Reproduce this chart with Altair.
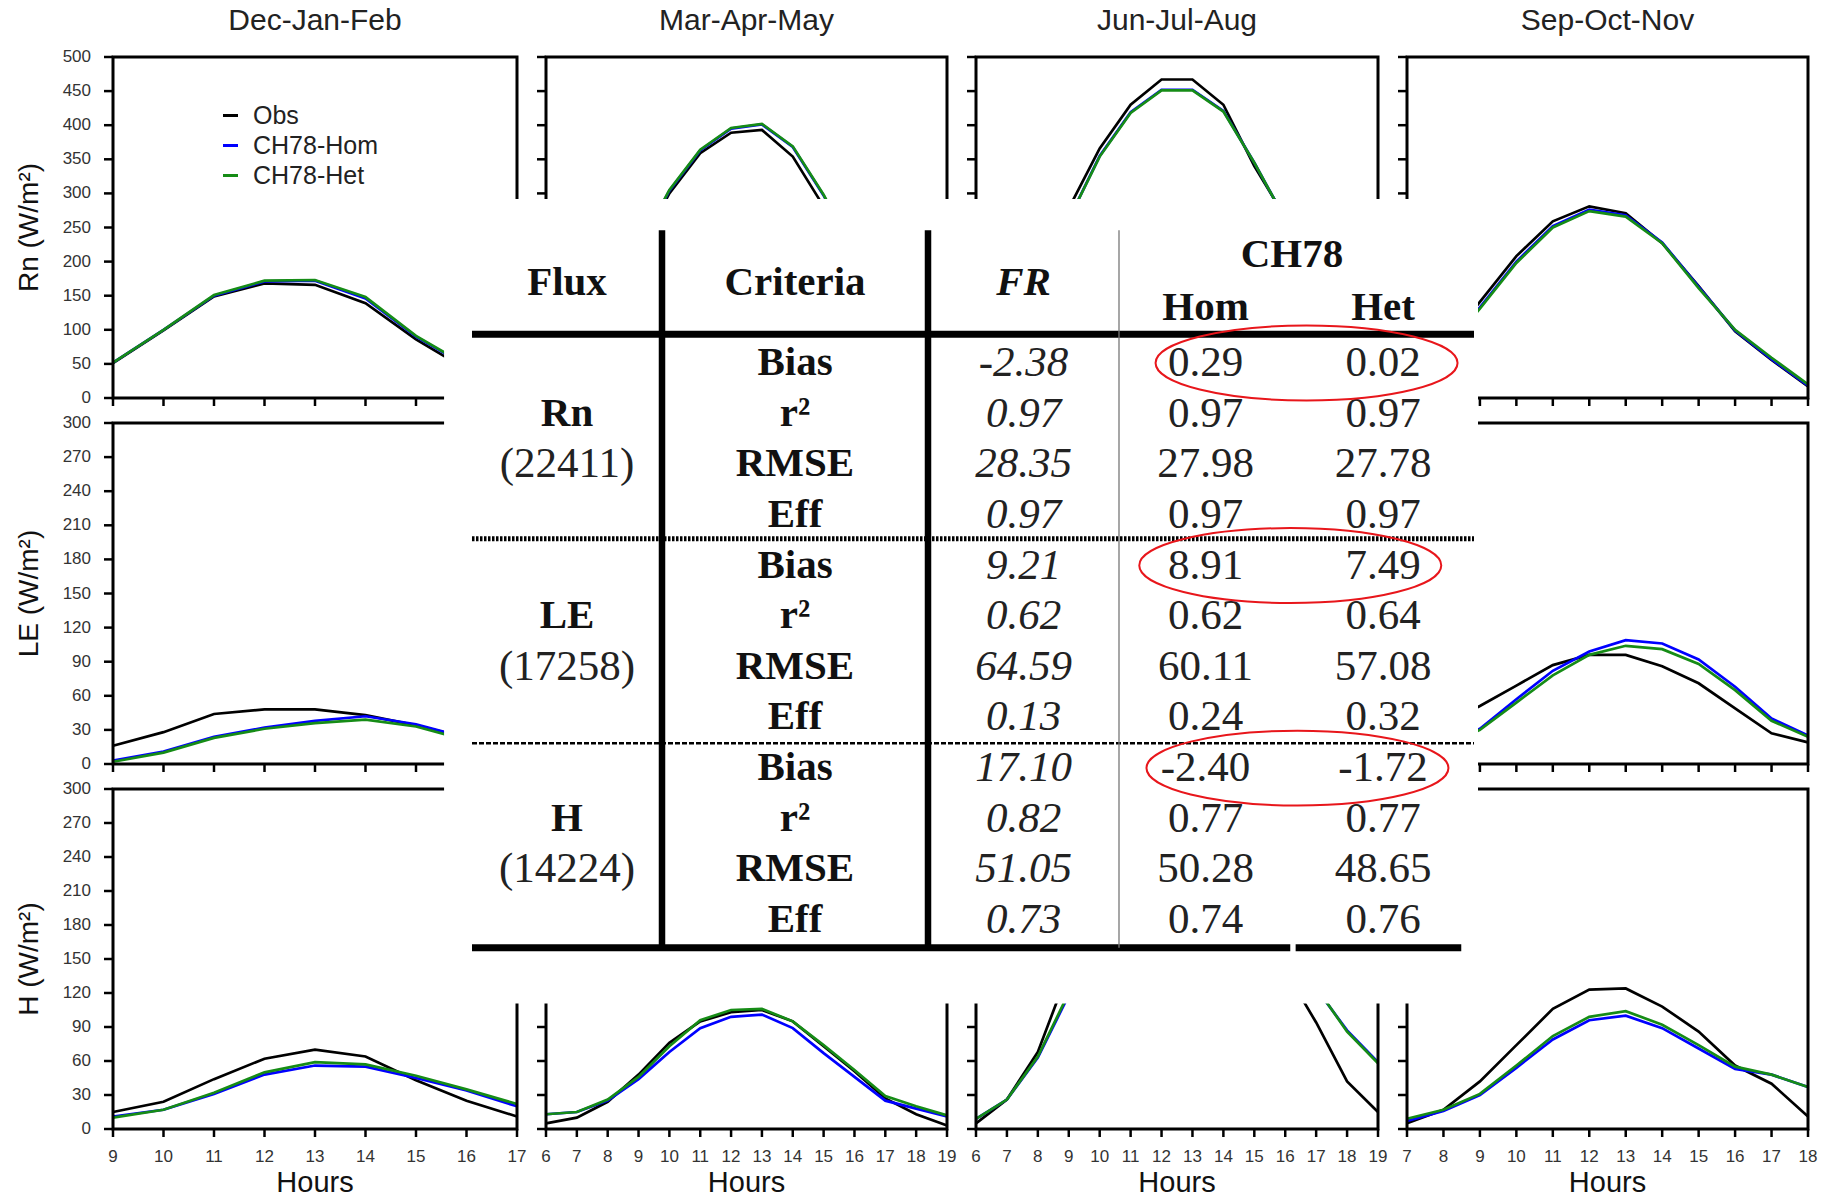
import altair as alt
import pandas as pd

W, H = 1831, 1197
SANS = "Liberation Sans"
SERIF = "Liberation Serif"

# ---------------- data ----------------
SEASONS = ["Dec-Jan-Feb", "Mar-Apr-May", "Jun-Jul-Aug", "Sep-Oct-Nov"]
FLUXES = ["Rn", "LE", "H"]
SERIES = ["Obs", "CH78-Hom", "CH78-Het"]
SERIES_COLORS = ["#000000", "#0000ff", "#168c16"]

HOURS_DJF = list(range(9, 18))
HOURS_MAM = list(range(6, 20))
HOURS_JJA = list(range(6, 20))
HOURS_SON = list(range(7, 19))
HOURS = [HOURS_DJF, HOURS_MAM, HOURS_JJA, HOURS_SON]

Y_MAX = {"Rn": 500, "LE": 300, "H": 300}
Y_TICKS_RN = list(range(0, 501, 50))
Y_TICKS_LE = list(range(0, 301, 30))
Y_TICKS_H = list(range(0, 301, 30))
Y_TICKS = {"Rn": Y_TICKS_RN, "LE": Y_TICKS_LE, "H": Y_TICKS_H}

# None = hidden beneath the table
RN_DJF_OBS = [51, 99, 149, 168, 166, 139, 86, 42, None]
RN_DJF_HOM = [52, 100, 150, 171, 172, 146, 90, 47, None]
RN_DJF_HET = [52, 100, 151, 172, 173, 148, 91, 48, None]

RN_MAM_OBS = [None, None, None, 215, 300, 359, 389, 393, 354, 281, 200, None, None, None]
RN_MAM_HOM = [None, None, None, 219, 304, 363, 395, 401, 368, 297, 211, None, None, None]
RN_MAM_HET = [None, None, None, 220, 305, 364, 396, 402, 369, 298, 212, None, None, None]

RN_JJA_OBS = [None, None, 190, 278, 366, 430, 467, 467, 430, 340, 265, None, None, None]
RN_JJA_HOM = [None, None, 179, 262, 355, 419, 452, 452, 421, 345, 262, None, None, None]
RN_JJA_HET = [None, None, 180, 262, 354, 418, 451, 451, 420, 345, 262, None, None, None]

RN_SON_OBS = [None, 75, 141, 208, 259, 281, 271, 227, 164, 98, 56, 17]
RN_SON_HOM = [None, 70, 133, 200, 252, 276, 268, 228, 163, 99, 57, 18]
RN_SON_HET = [None, 69, 131, 198, 250, 274, 266, 227, 161, 100, 59, 20]

LE_DJF_OBS = [16, 28, 44, 48, 48, 43, 34, 23, None]
LE_DJF_HOM = [3, 11, 24, 32, 38, 42, 35, 23, None]
LE_DJF_HET = [2, 10, 23, 31, 36, 39, 33, 21, None]

LE_SON_OBS = [None, 35, 51, 69, 87, 96, 96, 86, 71, 49, 27, 19]
LE_SON_HOM = [None, 15, 31, 57, 82, 99, 109, 106, 92, 68, 40, 25]
LE_SON_HET = [None, 15, 30, 54, 78, 96, 104, 101, 88, 65, 38, 24]

H_DJF_OBS = [15, 24, 44, 62, 70, 64, 43, 25, 11]
H_DJF_HOM = [11, 17, 31, 48, 56, 55, 45, 34, 20]
H_DJF_HET = [10, 17, 32, 50, 59, 57, 47, 35, 22]

H_MAM_OBS = [5, 10, 24, 48, 76, 95, 103, 105, 95, 73, 51, 27, 13, 3]
H_MAM_HOM = [13, 15, 25, 44, 68, 89, 99, 101, 89, 67, 46, 25, 18, 11]
H_MAM_HET = [13, 15, 26, 46, 73, 96, 105, 106, 95, 74, 52, 29, 20, 12]

H_JJA_OBS = [5, 26, 68, 140, None, None, None, None, None, None, 140, 94, 42, 15]
H_JJA_HOM = [9, 26, 63, 118, None, None, None, None, None, None, 155, 124, 87, 59]
H_JJA_HET = [9, 26, 64, 120, None, None, None, None, None, None, 155, 125, 86, 58]

H_SON_OBS = [5, 17, 42, 74, 106, 123, 124, 108, 86, 56, 40, 11]
H_SON_HOM = [7, 16, 30, 54, 79, 96, 100, 89, 71, 53, 48, 37]
H_SON_HET = [9, 17, 31, 56, 82, 99, 104, 92, 74, 55, 48, 37]

PANEL_DATA = {
    (0, 0): (RN_DJF_OBS, RN_DJF_HOM, RN_DJF_HET),
    (0, 1): (RN_MAM_OBS, RN_MAM_HOM, RN_MAM_HET),
    (0, 2): (RN_JJA_OBS, RN_JJA_HOM, RN_JJA_HET),
    (0, 3): (RN_SON_OBS, RN_SON_HOM, RN_SON_HET),
    (1, 0): (LE_DJF_OBS, LE_DJF_HOM, LE_DJF_HET),
    (1, 3): (LE_SON_OBS, LE_SON_HOM, LE_SON_HET),
    (2, 0): (H_DJF_OBS, H_DJF_HOM, H_DJF_HET),
    (2, 1): (H_MAM_OBS, H_MAM_HOM, H_MAM_HET),
    (2, 2): (H_JJA_OBS, H_JJA_HOM, H_JJA_HET),
    (2, 3): (H_SON_OBS, H_SON_HOM, H_SON_HET),
}

# table contents
CRITERIA = ["Bias", "r²", "RMSE", "Eff"]
FLUX_COUNTS = ["(22411)", "(17258)", "(14224)"]
FR_VALUES = ["-2.38", "0.97", "28.35", "0.97", "9.21", "0.62", "64.59", "0.13",
             "17.10", "0.82", "51.05", "0.73"]
HOM_VALUES = ["0.29", "0.97", "27.98", "0.97", "8.91", "0.62", "60.11", "0.24",
              "-2.40", "0.77", "50.28", "0.74"]
HET_VALUES = ["0.02", "0.97", "27.78", "0.97", "7.49", "0.64", "57.08", "0.32",
              "-1.72", "0.77", "48.65", "0.76"]

# ---------------- layout (pixels) ----------------
COL_X = [(113, 517), (546, 947), (976, 1378), (1407, 1808)]
ROW_Y = [(398, 57), (764, 423), (1129, 789)]
TABLE_COL_EDGES = [472, 662, 928, 1119, 1292, 1474]
TABLE_ROW_RANGE = [363, 920]
TABLE_FONT = 43
TABLE_FONT_BOLD = 41

color_scale = alt.Scale(domain=SERIES, range=SERIES_COLORS)


def panel_chart(ri, ci, obs, hom, het):
    flux = FLUXES[ri]
    season = SEASONS[ci]
    hours = HOURS[ci]
    x0, x1 = COL_X[ci]
    yb, yt = ROW_Y[ri]
    ymax = Y_MAX[flux]
    yticks_vals = Y_TICKS[flux]
    hmid = (hours[0] + hours[-1]) / 2

    rows = []
    for name, vals in zip(SERIES, (obs, hom, het)):
        for h, v in zip(hours, vals):
            if v is not None:
                rows.append({"hour": h, "value": v, "series": name})
    df = pd.DataFrame(rows)

    xs = alt.Scale(domain=[hours[0], hours[-1]], range=[x0, x1], nice=False, zero=False)
    ys = alt.Scale(domain=[0, ymax], range=[yb, yt], nice=False, zero=False)

    def PX(f):
        return alt.X(f, scale=xs, axis=None)

    def PY(f):
        return alt.Y(f, scale=ys, axis=None)

    if ri == 0 and ci == 0:
        legend = alt.Legend(
            orient="none", legendX=218, legendY=103, title=None,
            symbolType="stroke", symbolSize=225, symbolStrokeWidth=3,
            labelFont=SANS, labelFontSize=25, labelColor="#222",
            rowPadding=4, labelOffset=10, padding=0,
        )
    else:
        legend = None

    layers = []
    # x ticks
    xt_df = pd.DataFrame({"hour": hours, "v": [0] * len(hours)})
    layers.append(alt.Chart(xt_df).mark_tick(
        orient="vertical", size=8, thickness=2.5, color="#000", opacity=1, yOffset=4
    ).encode(x=PX("hour:Q"), y=PY("v:Q")))
    # y ticks
    yt_df = pd.DataFrame({"hour": [hours[0]] * len(yticks_vals), "v": yticks_vals})
    layers.append(alt.Chart(yt_df).mark_tick(
        orient="horizontal", size=9, thickness=2.5, color="#000", opacity=1, xOffset=-4.5
    ).encode(x=PX("hour:Q"), y=PY("v:Q")))

    # data lines
    layers.append(alt.Chart(df).mark_line(strokeWidth=2.7).encode(
        x=PX("hour:Q"), y=PY("value:Q"),
        color=alt.Color("series:N", scale=color_scale, legend=legend),
    ))

    # panel frame
    box_df = pd.DataFrame({"h0": [hours[0]], "h1": [hours[-1]], "v0": [0], "v1": [ymax]})
    layers.append(alt.Chart(box_df).mark_rect(fillOpacity=0, stroke="#000", strokeWidth=3).encode(
        x=PX("h0:Q"), x2=alt.X2("h1"), y=PY("v0:Q"), y2=alt.Y2("v1"),
    ))

    if ci == 0:
        # y tick labels
        layers.append(alt.Chart(yt_df).mark_text(
            font=SANS, fontSize=17, color="#333", align="right", baseline="middle", xOffset=-22
        ).encode(x=PX("hour:Q"), y=PY("v:Q"), text="v:Q"))
        # y title
        yt_title = pd.DataFrame({"hour": [hours[0]], "v": [ymax / 2], "t": [f"{flux} (W/m²)"]})
        layers.append(alt.Chart(yt_title).mark_text(
            font=SANS, fontSize=28, color="#111", align="center", baseline="middle",
            angle=270, xOffset=-83
        ).encode(x=PX("hour:Q"), y=PY("v:Q"), text="t:N"))
    if ri == 2:
        # x tick labels
        layers.append(alt.Chart(xt_df).mark_text(
            font=SANS, fontSize=17, color="#333", align="center", baseline="middle", yOffset=28
        ).encode(x=PX("hour:Q"), y=PY("v:Q"), text="hour:Q"))
        ht = pd.DataFrame({"hour": [hmid], "v": [0], "t": ["Hours"]})
        layers.append(alt.Chart(ht).mark_text(
            font=SANS, fontSize=29, color="#111", align="center", baseline="middle", yOffset=54
        ).encode(x=PX("hour:Q"), y=PY("v:Q"), text="t:N"))
    if ri == 0:
        tdf = pd.DataFrame({"hour": [hmid], "v": [ymax], "t": [season]})
        layers.append(alt.Chart(tdf).mark_text(
            font=SANS, fontSize=30, color="#222", baseline="middle", align="center",
            yOffset=-36
        ).encode(x=PX("hour:Q"), y=PY("v:Q"), text="t:N"))
    return alt.layer(*layers)


panels = [panel_chart(ri, ci, *vals) for (ri, ci), vals in PANEL_DATA.items()]

# ---------------- table ----------------
tx = alt.Scale(domain=[0, 1, 2, 3, 4, 5], range=TABLE_COL_EDGES, nice=False, zero=False)
ty = alt.Scale(domain=[0, 11], range=TABLE_ROW_RANGE, nice=False, zero=False)


def X(f):
    return alt.X(f, scale=tx, axis=None)


def Y(f):
    return alt.Y(f, scale=ty, axis=None)


cover = alt.Chart(pd.DataFrame({"c0": [-0.147], "c1": [5.022], "r0": [-3.24], "r1": [12.65]})).mark_rect(
    color="white").encode(x=X("c0:Q"), x2=alt.X2("c1"), y=Y("r0:Q"), y2=alt.Y2("r1"))


def hrule(rows, width, dash=None):
    kw = dict(color="#000", strokeWidth=width)
    if dash:
        kw["strokeDash"] = dash
    return alt.Chart(pd.DataFrame(rows)).mark_rule(**kw).encode(
        x=X("c0:Q"), x2=alt.X2("c1"), y=Y("r:Q"))


def vrule(rows, width, color="#000"):
    return alt.Chart(pd.DataFrame(rows)).mark_rule(color=color, strokeWidth=width).encode(
        x=X("c:Q"), y=Y("r0:Q"), y2=alt.Y2("r1"))


solid_rules = hrule([{"c0": 0, "c1": 5, "r": -0.57},
                     {"c0": 0, "c1": 3.99, "r": 11.55},
                     {"c0": 4.02, "c1": 4.93, "r": 11.55}], 7)
dotted_rule = hrule([{"c0": 0, "c1": 5, "r": 3.47}], 5, [2.5, 1.5])
dashed_rule = hrule([{"c0": 0, "c1": 5, "r": 7.51}], 2.5, [5, 2])
thick_vrules = vrule([{"c": 1, "r0": -2.62, "r1": 11.55}, {"c": 2, "r0": -2.62, "r1": 11.55}], 6.5)
thin_vrule = vrule([{"c": 3, "r0": -2.62, "r1": 11.55}], 1.3, "#777")

bold_cells = [("Flux", 0.5, -1.58), ("Criteria", 1.5, -1.58), ("CH78", 4.0, -2.13),
              ("Hom", 3.5, -1.09), ("Het", 4.5, -1.09)]
for k, f in enumerate(FLUXES):
    bold_cells.append((f, 0.5, 4 * k + 1))
for i in range(12):
    bold_cells.append((CRITERIA[i % 4], 1.5, i))
bolditalic_cells = [("FR", 2.5, -1.58)]
italic_cells = [(v, 2.5, i) for i, v in enumerate(FR_VALUES)]
regular_cells = [(c, 0.5, 4 * k + 2) for k, c in enumerate(FLUX_COUNTS)]
regular_cells += [(v, 3.5, i) for i, v in enumerate(HOM_VALUES)]
regular_cells += [(v, 4.5, i) for i, v in enumerate(HET_VALUES)]


def text_layer(cells, weight, style, color, size):
    df = pd.DataFrame(cells, columns=["t", "c", "r"])
    return alt.Chart(df).mark_text(
        font=SERIF, fontSize=size, fontWeight=weight, fontStyle=style,
        color=color, align="center", baseline="middle",
    ).encode(x=X("c:Q"), y=Y("r:Q"), text="t:N")


ELLIPSE_PATH = ("M-1,0C-1,-0.137,-0.552,-0.248,0,-0.248C0.552,-0.248,1,-0.137,1,0"
                "C1,0.137,0.552,0.248,0,0.248C-0.552,0.248,-1,0.137,-1,0Z")
ellipses = alt.Chart(pd.DataFrame({"c": [4.08, 3.99, 4.03], "r": [0, 4, 8]})).mark_point(
    shape=ELLIPSE_PATH, size=91204, filled=False, color="#e8161b", strokeWidth=2, opacity=1
).encode(x=X("c:Q"), y=Y("r:Q"))

table = alt.layer(
    cover, solid_rules, dotted_rule, dashed_rule, thick_vrules, thin_vrule,
    text_layer(bold_cells, "bold", "normal", "#111", TABLE_FONT_BOLD),
    text_layer(bolditalic_cells, "bold", "italic", "#111", TABLE_FONT_BOLD),
    text_layer(italic_cells, "normal", "italic", "#222", TABLE_FONT),
    text_layer(regular_cells, "normal", "normal", "#222", TABLE_FONT),
    ellipses,
)

chart = alt.layer(*panels, table).resolve_scale(
    x="independent", y="independent"
).properties(
    width=W, height=H, padding=0, background="white",
    autosize=alt.AutoSizeParams(type="none"),
).configure_view(strokeWidth=0)

chart.save("out.html", embed_options={"renderer": "svg", "actions": False})
